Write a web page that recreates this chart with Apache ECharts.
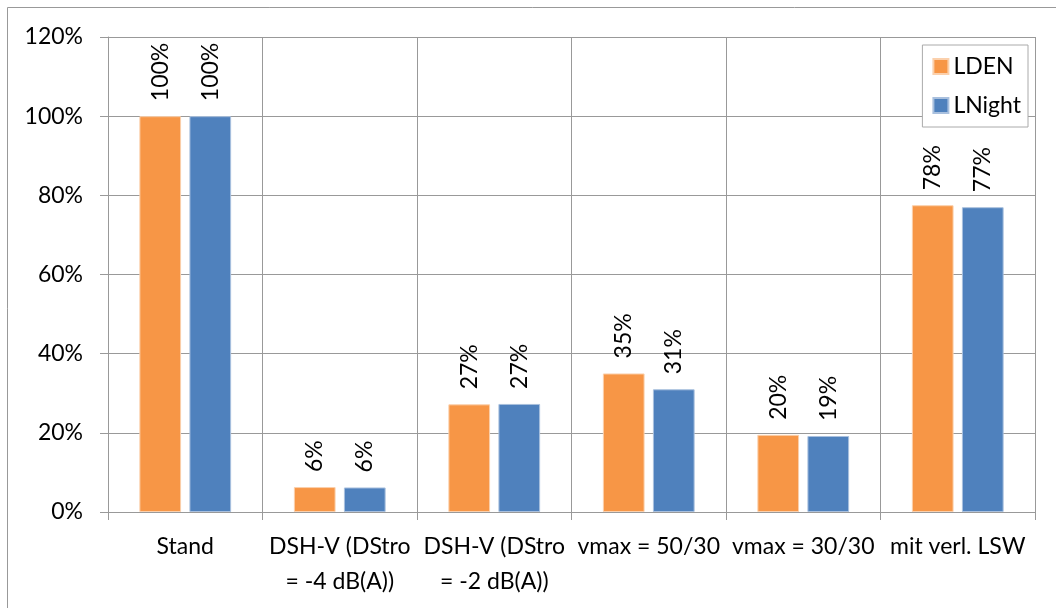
<!DOCTYPE html>
<html>
<head>
<meta charset="utf-8">
<script src="https://cdn.jsdelivr.net/npm/echarts@6/dist/echarts.min.js"></script>
<style>
html,body{margin:0;padding:0;background:#fff;}
#c{width:1056px;height:608px;}
</style>
</head>
<body>
<div id="c"></div>
<script>
const categories = ['Stand', 'DSH-V (DStro\n= -4 dB(A))', 'DSH-V (DStro\n= -2 dB(A))', 'vmax = 50/30', 'vmax = 30/30', 'mit verl. LSW'];
const seriesNames = ['LDEN', 'LNight'];
const ldenValues = [100, 6.3, 27.2, 35.0, 19.5, 77.5];
const lnightValues = [100, 6.2, 27.3, 31.0, 19.2, 77.0];
const yTicks = [0, 20, 40, 60, 80, 100, 120];

const FONT = 'Lato';
const FS = 23;
const chart = echarts.init(document.getElementById('c'));
const labelCfg = {
  show: true, position: 'top', rotate: 90, distance: 15,
  align: 'left', verticalAlign: 'middle',
  fontFamily: FONT, fontSize: FS, color: '#000',
  formatter: p => Math.round(p.value) + '%'
};
chart.setOption({
  animation: false,
  textStyle: { fontFamily: FONT },
  graphic: [{
    type: 'rect', shape: { x: 7.5, y: 7.5, width: 1200, height: 800 },
    style: { fill: 'none', stroke: '#999', lineWidth: 1 }, silent: true, z: -10
  }],
  grid: { left: 108, right: 21, top: 37, bottom: 96, containLabel: false },
  legend: {
    data: seriesNames, orient: 'vertical', right: 28, top: 45,
    itemWidth: 15, itemHeight: 15, itemGap: 16,
    padding: [10, 7, 10, 10],
    borderColor: '#aaa', borderWidth: 1, backgroundColor: '#fff',
    textStyle: { fontFamily: FONT, fontSize: FS, color: '#000' },
    icon: 'rect'
  },
  xAxis: {
    type: 'category', data: categories,
    axisLine: { lineStyle: { color: '#999', width: 1 } },
    axisTick: { show: true, length: 8, alignWithLabel: false, lineStyle: { color: '#999' } },
    splitLine: { show: true, lineStyle: { color: '#999', width: 1 } },
    axisLabel: { fontFamily: FONT, fontSize: FS, color: '#000', margin: 17, lineHeight: 35, interval: 0 }
  },
  yAxis: {
    type: 'value', min: yTicks[0], max: yTicks[yTicks.length - 1], interval: 20,
    axisLine: { show: true, lineStyle: { color: '#999', width: 1 } },
    axisTick: { show: true, length: 8, lineStyle: { color: '#999' } },
    splitLine: { show: true, lineStyle: { color: '#999', width: 1 } },
    axisLabel: { fontFamily: FONT, fontSize: FS, color: '#000', margin: 25, formatter: v => v + '%' }
  },
  series: [
    { name: seriesNames[0], type: 'bar', data: ldenValues, barWidth: '27%', barGap: '20%',
      itemStyle: { color: '#F79646', borderColor: '#fbd0ac', borderWidth: 1 }, label: labelCfg },
    { name: seriesNames[1], type: 'bar', data: lnightValues, barWidth: '27%',
      itemStyle: { color: '#4F81BD', borderColor: '#a9c0de', borderWidth: 1 }, label: labelCfg }
  ]
});
</script>
</body>
</html>
